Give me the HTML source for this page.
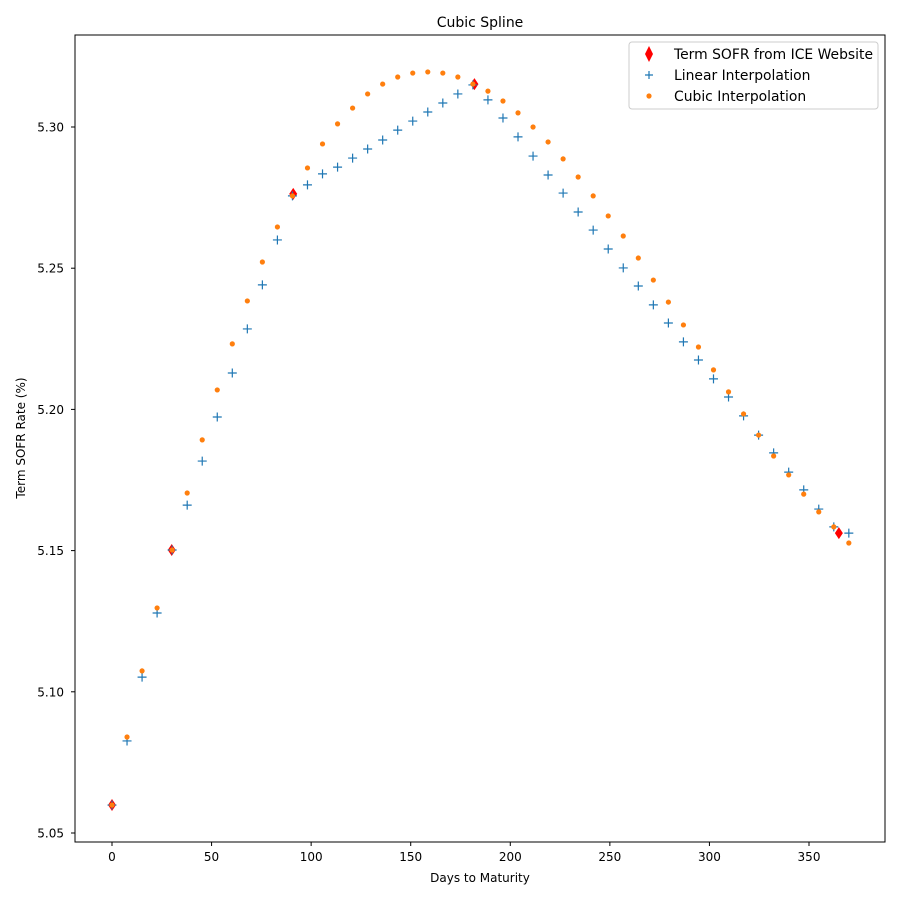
<!DOCTYPE html>
<html><head><meta charset="utf-8"><style>
body{margin:0;background:#fff;}
svg text{font-family:"DejaVu Sans","Liberation Sans",sans-serif;fill:#000;}
</style></head><body>
<svg id="chart" width="900" height="900" viewBox="0 0 900 900" xmlns="http://www.w3.org/2000/svg">
<rect width="900" height="900" fill="#fff"/>
<text x="480" y="27" text-anchor="middle" font-size="14">Cubic Spline</text>
<g id="plot"></g>
<rect x="75" y="35" width="810" height="807" fill="none" stroke="#000" stroke-width="1"/>
<g id="axes"></g>
<text x="480" y="882" text-anchor="middle" font-size="12">Days to Maturity</text>
<text transform="translate(25,438) rotate(-90)" text-anchor="middle" font-size="12">Term SOFR Rate (%)</text>
<g id="legend">
<rect x="629" y="42" width="249" height="67" rx="3" fill="#fff" stroke="#ccc"/>
<g><path d="M649,46 L653,54 L649,62 L645,54 Z" fill="red"/><text x="674" y="59" font-size="13.9">Term SOFR from ICE Website</text></g>
<g><path d="M645,75 L653,75 M649,71 L649,79" stroke="#1f77b4" stroke-width="1.2"/><text x="674" y="80" font-size="13.9">Linear Interpolation</text></g>
<g><circle cx="649" cy="96" r="2.6" fill="#ff7f0e"/><text x="674" y="101" font-size="13.9">Cubic Interpolation</text></g>
</g>
</svg>
<script>
const iceDays=[0,30,91,182,365];
const iceRates=[5.0599,5.1502,5.2763,5.3152,5.1562];
const days=[0,7.55,15.10,22.65,30.20,37.76,45.31,52.86,60.41,67.96,75.51,83.06,90.61,98.16,105.71,113.27,120.82,128.37,135.92,143.47,151.02,158.57,166.12,173.67,181.22,188.78,196.33,203.88,211.43,218.98,226.53,234.08,241.63,249.18,256.73,264.29,271.84,279.39,286.94,294.49,302.04,309.59,317.14,324.69,332.24,339.80,347.35,354.90,362.45,370];
const linearRates=[5.0599,5.0826,5.1052,5.1279,5.1502,5.1661,5.1817,5.1973,5.2129,5.2285,5.2441,5.2600,5.2756,5.2795,5.2834,5.2858,5.2890,5.2922,5.2954,5.2989,5.3021,5.3053,5.3085,5.3117,5.3149,5.3096,5.3032,5.2965,5.2897,5.2830,5.2766,5.2699,5.2635,5.2568,5.2501,5.2437,5.2370,5.2306,5.2239,5.2175,5.2108,5.2044,5.1977,5.1909,5.1846,5.1778,5.1715,5.1647,5.1584,5.1562];
const cubicRates=[5.0599,5.0840,5.1074,5.1297,5.1502,5.1704,5.1892,5.2069,5.2232,5.2384,5.2522,5.2646,5.2756,5.2855,5.2940,5.3011,5.3067,5.3117,5.3152,5.3177,5.3191,5.3195,5.3191,5.3177,5.3152,5.3127,5.3092,5.3050,5.3000,5.2947,5.2887,5.2823,5.2756,5.2685,5.2614,5.2536,5.2458,5.2380,5.2299,5.2221,5.2140,5.2062,5.1984,5.1909,5.1835,5.1768,5.1700,5.1637,5.1584,5.1527];
const xTicks=[0,50,100,150,200,250,300,350];
const yTicks=[5.05,5.10,5.15,5.20,5.25,5.30];
const yTickLabels=["5.05","5.10","5.15","5.20","5.25","5.30"];

const NS="http://www.w3.org/2000/svg";
function xs(d){return 112+d*(809-112)/350;}
function ys(v){return 833-(v-5.05)*2824;}
function mk(tag,attrs,parent){const e=document.createElementNS(NS,tag);for(const k in attrs)e.setAttribute(k,attrs[k]);parent.appendChild(e);return e;}
const plot=document.getElementById('plot'),axes=document.getElementById('axes');

xTicks.forEach(t=>{
  const l=mk('line',{x1:xs(t),x2:xs(t),y1:842,y2:846,stroke:'#000'},axes);
  
  
  const tx=mk('text',{x:xs(t),y:861,'text-anchor':'middle','font-size':'12'},axes);
  tx.textContent=t;
  
  
});
yTicks.forEach((t,i)=>{
  const l=mk('line',{x1:71,x2:75,y1:ys(t),y2:ys(t),stroke:'#000'},axes);
  
  
  const tx=mk('text',{x:64,y:ys(t)+4.5,'text-anchor':'end','font-size':'12'},axes);
  tx.textContent=yTickLabels[i];
  
  
});
iceDays.forEach((d,i)=>{
  const x=xs(d),y=ys(iceRates[i]);
  const p=mk('path',{d:`M${x},${y-6} L${x+4},${y} L${x},${y+6} L${x-4},${y} Z`,fill:'red'},plot);
  
  
});
days.forEach((d,i)=>{
  const x=xs(d),y=ys(linearRates[i]);
  const p=mk('path',{d:`M${x-4.5},${y} L${x+4.5},${y} M${x},${y-4.5} L${x},${y+4.5}`,stroke:'#1f77b4','stroke-width':1.2},plot);
  
  
});
days.forEach((d,i)=>{
  const c=mk('circle',{cx:xs(d),cy:ys(cubicRates[i]),r:2.6,fill:'#ff7f0e'},plot);
  
  
});
</script>
</body></html>
